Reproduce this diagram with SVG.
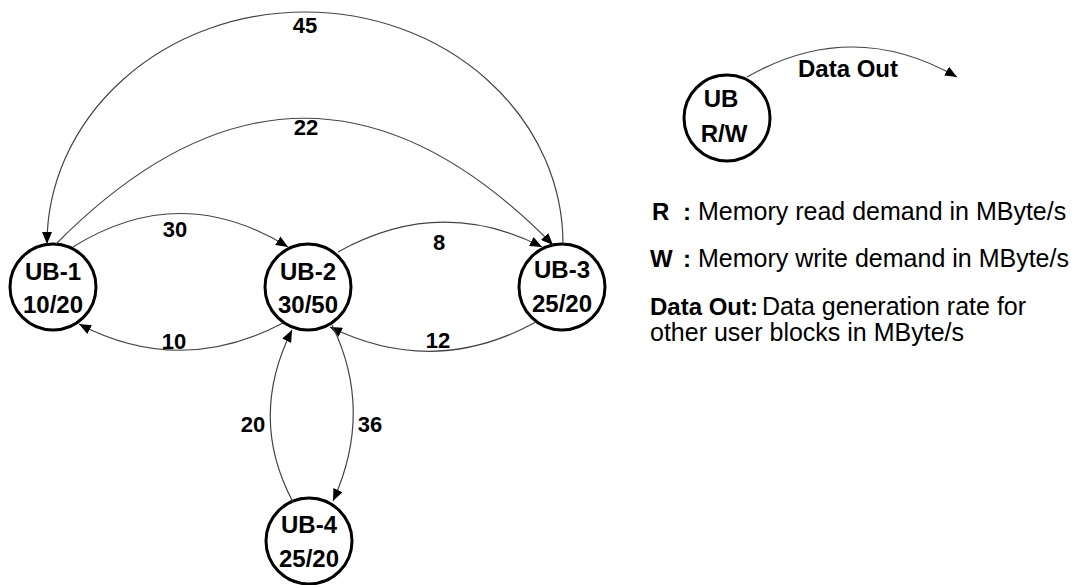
<svg xmlns="http://www.w3.org/2000/svg" width="1080" height="585" viewBox="0 0 1080 585">
  <defs>
    <marker id="arrow" viewBox="0 0 12 10" refX="12" refY="5" markerWidth="12" markerHeight="10" markerUnits="userSpaceOnUse" orient="auto">
      <path d="M0,0 L12,5 L0,10 z" fill="#000"/>
    </marker>
    <style>
      text { font-family: "Liberation Sans", Arial, sans-serif; fill: #000; }
      .node circle { fill: #fff; stroke: #000; stroke-width: 3; }
      .nl { font-weight: bold; font-size: 24px; text-anchor: middle; }
      .edge { fill: none; stroke: #444; stroke-width: 1.2; marker-end: url(#arrow); }
      .el { font-weight: bold; font-size: 22px; text-anchor: middle; }
      .lb { font-weight: bold; font-size: 24px; }
      .lt { font-size: 25px; }
    </style>
  </defs>

  <rect width="1080" height="585" fill="#fff"/>

  <!-- user blocks -->
  <g id="ub1" class="node">
    <circle cx="53" cy="287" r="43"/>
    <text class="nl" x="53" y="280">UB-1</text>
    <text class="nl" x="53" y="313">10/20</text>
  </g>
  <g id="ub2" class="node">
    <circle cx="308" cy="287" r="43"/>
    <text class="nl" x="308" y="280">UB-2</text>
    <text class="nl" x="308" y="313">30/50</text>
  </g>
  <g id="ub3" class="node">
    <circle cx="562" cy="287" r="43"/>
    <text class="nl" x="562" y="278">UB-3</text>
    <text class="nl" x="562" y="312">25/20</text>
  </g>
  <g id="ub4" class="node">
    <circle cx="309" cy="541" r="43"/>
    <text class="nl" x="309" y="533">UB-4</text>
    <text class="nl" x="309" y="567">25/20</text>
  </g>
  <g id="ub-key" class="node">
    <circle cx="727" cy="118" r="43"/>
    <text class="nl" x="721" y="107">UB</text>
    <text class="nl" x="724" y="142">R/W</text>
  </g>

  <!-- data flows between user blocks -->
  <g id="connectors">
    <path class="edge" d="M563,244 A258,232 0 0 0 47,244"/>
    <path class="edge" d="M56,244 Q305,-8 553,245"/>
    <path class="edge" d="M73,247 Q180,180 288,247"/>
    <path class="edge" d="M283,323 Q180,377 79,324"/>
    <path class="edge" d="M338,252 Q440,195 542,247"/>
    <path class="edge" d="M536,322 Q434,378 330,327"/>
    <path class="edge" d="M293,502 Q248,418 292,330"/>
    <path class="edge" d="M332,325 Q374,411 333,501"/>
    <path class="edge" d="M747,77 Q852,17 957,77"/>

    <text class="el" x="305" y="33">45</text>
    <text class="el" x="306" y="135">22</text>
    <text class="el" x="175" y="237">30</text>
    <text class="el" x="174" y="349">10</text>
    <text class="el" x="439" y="250">8</text>
    <text class="el" x="438" y="348">12</text>
    <text class="el" x="253" y="432">20</text>
    <text class="el" x="370" y="432">36</text>
    <text class="lb" x="798" y="77">Data Out</text>
  </g>

  <!-- key -->
  <g id="legend">
    <text class="lb" x="652" y="220">R</text>
    <text class="lb" x="683" y="220">:</text>
    <text class="lt" x="698" y="220">Memory read demand in MByte/s</text>
    <text class="lb" x="650" y="267">W</text>
    <text class="lb" x="683" y="267">:</text>
    <text class="lt" x="698" y="267">Memory write demand in MByte/s</text>
    <text x="650" y="315"><tspan class="lb">Data Out:</tspan><tspan class="lt" x="762">Data generation rate for</tspan></text>
    <text class="lt" x="650" y="341">other user blocks in MByte/s</text>
  </g>
</svg>
